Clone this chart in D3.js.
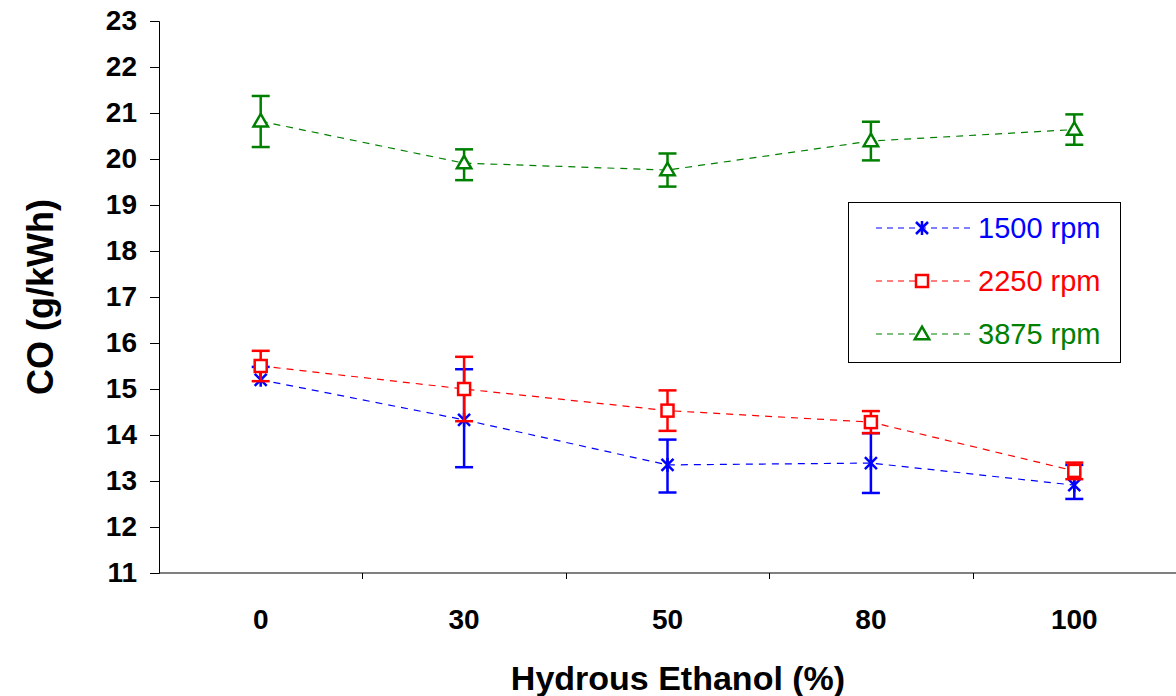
<!DOCTYPE html>
<html>
<head>
<meta charset="utf-8">
<script src="https://cdn.jsdelivr.net/npm/d3@7"></script>
<style>
  body { margin: 0; background: #fff; }
  svg { display: block; font-family: "Liberation Sans", Arial, sans-serif; }
</style>
</head>
<body>
<div id="chart-container"></div>
<script>
// ethanol content categories on the x axis
const categories = ["0", "30", "50", "80", "100"];
const yTicks = [11, 12, 13, 14, 15, 16, 17, 18, 19, 20, 21, 22, 23];

// CO values, with error bar lengths (down / up)
const rpm1500 = [15.2, 14.33, 13.35, 13.39, 12.91];
const rpm1500Lo = [0, 1.03, 0.6, 0.65, 0.3];
const rpm1500Hi = [0.28, 1.1, 0.55, 0.65, 0.44];

const rpm2250 = [15.5, 15.0, 14.53, 14.28, 13.22];
const rpm2250Lo = [0.33, 0.7, 0.44, 0.24, 0.18];
const rpm2250Hi = [0.33, 0.7, 0.44, 0.24, 0.18];

const rpm3875 = [20.82, 19.91, 19.76, 20.39, 20.64];
const rpm3875Lo = [0.56, 0.37, 0.36, 0.42, 0.33];
const rpm3875Hi = [0.55, 0.3, 0.36, 0.42, 0.33];

const seriesNames = ["1500 rpm", "2250 rpm", "3875 rpm"];

((() => {
  const width = 1176;
  const height = 696;
  const marginTop = 21;
  const marginRight = 0;
  const marginBottom = 123;
  const marginLeft = 159;

  const series = [
    {name: seriesNames[0], values: rpm1500, lo: rpm1500Lo, hi: rpm1500Hi, color: "#0000ff", shape: "star"},
    {name: seriesNames[1], values: rpm2250, lo: rpm2250Lo, hi: rpm2250Hi, color: "#ff0000", shape: "square"},
    {name: seriesNames[2], values: rpm3875, lo: rpm3875Lo, hi: rpm3875Hi, color: "#008000", shape: "triangle"}
  ];

  const x = d3.scaleBand()
    .domain(categories)
    .range([marginLeft, width - marginRight]);

  const y = d3.scaleLinear()
    .domain([11, 23])
    .range([height - marginBottom, marginTop]);

  const cx = c => x(c) + x.bandwidth() / 2;

  const svg = d3.create("svg")
    .attr("width", width)
    .attr("height", height)
    .attr("viewBox", [0, 0, width, height]);

  // y axis
  const yAxis = svg.append("g")
    .attr("transform", `translate(${marginLeft},0)`)
    .call(d3.axisLeft(y).tickValues(yTicks).tickSize(9).tickPadding(13).tickFormat(d3.format("d")));
  yAxis.selectAll("text")
    .style("font-size", "28px")
    .style("font-weight", "bold")
    .attr("fill", "#000");

  // x axis - ticks sit between the categories
  const xAxis = svg.append("g")
    .attr("transform", `translate(0,${height - marginBottom})`)
    .call(d3.axisBottom(x).tickSize(0).tickPadding(36));
  xAxis.selectAll("text")
    .style("font-size", "28px")
    .style("font-weight", "bold")
    .attr("fill", "#000");
  xAxis.select(".domain").remove();
  xAxis.append("line")
    .attr("x1", marginLeft).attr("x2", width)
    .attr("stroke", "#000");
  xAxis.selectAll(".sep")
    .data(categories.slice(1).concat(["end"]))
    .enter()
    .append("line")
    .attr("x1", (d, i) => Math.round(marginLeft + x.bandwidth() * (i + 1)) + 0.5)
    .attr("x2", (d, i) => Math.round(marginLeft + x.bandwidth() * (i + 1)) + 0.5)
    .attr("y1", 0).attr("y2", 6)
    .attr("stroke", "#000");

  yAxis.selectAll("line, path").attr("stroke", "#000");

  // axis titles
  svg.append("text")
    .attr("x", 678)
    .attr("y", 690)
    .attr("text-anchor", "middle")
    .style("font-size", "34px")
    .style("font-weight", "bold")
    .text("Hydrous Ethanol (%)");

  svg.append("text")
    .attr("transform", `translate(53,${(marginTop + height - marginBottom) / 2}) rotate(-90)`)
    .attr("text-anchor", "middle")
    .style("font-size", "36px")
    .style("font-weight", "bold")
    .text("CO (g/kWh)");

  function marker(g, shape, color) {
    if (shape === "triangle") {
      g.append("path")
        .attr("d", d3.symbol(d3.symbolTriangle, 90)())
        .attr("transform", "translate(0,1)")
        .attr("fill", "#fff").attr("stroke", color).attr("stroke-width", 2.5);
    } else if (shape === "square") {
      g.append("rect")
        .attr("x", -6).attr("y", -6).attr("width", 12).attr("height", 12)
        .attr("fill", "#fff").attr("stroke", color).attr("stroke-width", 2.5);
    } else {
      g.append("path")
        .attr("d", "M-6,-6L6,6M-6,6L6,-6M0,-7L0,7")
        .attr("stroke", color).attr("stroke-width", 2.5).attr("fill", "none");
    }
  }

  const line = d3.line()
    .x(d => cx(d.c))
    .y(d => y(d.v));

  // dashed lines first
  series.forEach(s => {
    const pts = categories.map((c, i) => ({c, v: s.values[i]}));
    svg.append("path")
      .datum(pts)
      .attr("fill", "none")
      .attr("stroke", s.color)
      .attr("stroke-width", 1.2)
      .attr("stroke-dasharray", "7,6")
      .attr("d", line);
  });

  // error bars and markers
  series.forEach(s => {
    const g = svg.append("g");
    categories.forEach((c, i) => {
      const xx = cx(c);
      const v = s.values[i];
      const eb = g.append("g").attr("stroke", s.color).attr("stroke-width", 2.5);
      if (s.hi[i] > 0) {
        eb.append("line").attr("x1", xx).attr("x2", xx).attr("y1", y(v)).attr("y2", y(v + s.hi[i]));
        eb.append("line").attr("x1", xx - 9).attr("x2", xx + 9).attr("y1", y(v + s.hi[i])).attr("y2", y(v + s.hi[i]));
      }
      if (s.lo[i] > 0) {
        eb.append("line").attr("x1", xx).attr("x2", xx).attr("y1", y(v)).attr("y2", y(v - s.lo[i]));
        eb.append("line").attr("x1", xx - 9).attr("x2", xx + 9).attr("y1", y(v - s.lo[i])).attr("y2", y(v - s.lo[i]));
      }
      const m = g.append("g").attr("transform", `translate(${xx},${y(v)})`);
      marker(m, s.shape, s.color);
    });
  });

  // legend
  const legend = svg.append("g").attr("transform", "translate(848,202)");
  legend.append("rect")
    .attr("x", 0.5).attr("y", 0.5)
    .attr("width", 272).attr("height", 160)
    .attr("fill", "#fff")
    .attr("stroke", "#000")
    .attr("stroke-width", 1);

  series.forEach((s, i) => {
    const row = legend.append("g").attr("transform", `translate(0,${26 + i * 53})`);
    row.append("line")
      .attr("x1", 28).attr("x2", 125)
      .attr("stroke", s.color)
      .attr("stroke-width", 1.2)
      .attr("stroke-dasharray", "6,5");
    const m = row.append("g").attr("transform", "translate(74,0)");
    marker(m, s.shape, s.color);
    row.append("text")
      .attr("x", 130)
      .attr("y", 10)
      .attr("fill", s.color)
      .style("font-size", "29px")
      .text(s.name);
  });

  d3.select("#chart-container").append(() => svg.node());
})());
</script>
</body>
</html>
